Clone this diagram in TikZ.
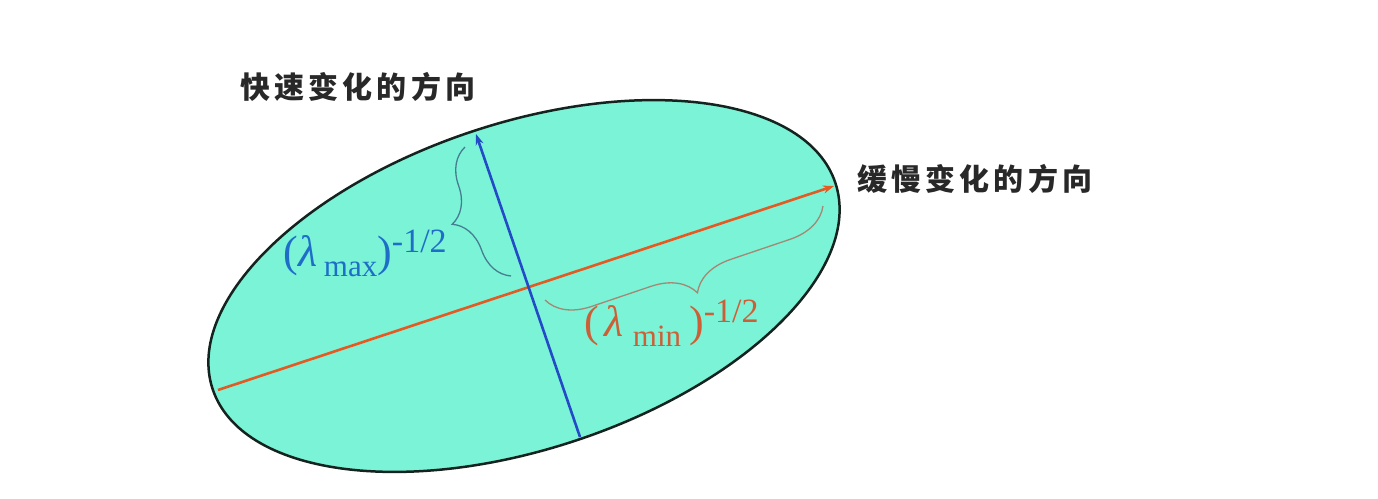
\documentclass[tikz,border=0pt]{standalone}
\usepackage{fontspec}
\setmainfont{Liberation Serif}
\newfontfamily\cjk[LetterSpace=14]{Noto Sans CJK SC}
\usetikzlibrary{shapes.geometric,arrows.meta,decorations.pathreplacing}
\definecolor{ellfill}{RGB}{122,243,214}
\definecolor{ellline}{RGB}{20,35,30}
\definecolor{axblue}{RGB}{35,75,200}
\definecolor{axred}{RGB}{228,90,35}
\definecolor{lbblue}{RGB}{30,110,200}
\definecolor{lbred}{RGB}{205,95,55}
\definecolor{brblue}{RGB}{70,125,145}
\definecolor{brred}{RGB}{165,135,115}
\definecolor{txt}{RGB}{40,40,40}
\tikzset{
  cjklabel/.style={anchor=west, inner sep=0pt, text=txt, font=\cjk\bfseries\fontsize{30}{30}\selectfont},
  axisline/.style={line width=2.6pt, -{Stealth[length=11pt,width=8pt]}},
  bracestyle/.style={decorate, line width=1.3pt},
  mathlabel/.style={anchor=base west, inner sep=0pt, font=\fontsize{44}{44}\selectfont},
}
\newcommand{\lsub}[1]{\raisebox{-10pt}{\fontsize{31}{31}\selectfont #1}}
\newcommand{\lsup}[1]{\raisebox{14pt}{\fontsize{34}{34}\selectfont #1}}
\begin{document}
\begin{tikzpicture}[x=1pt,y=-1pt]
\useasboundingbox (0,0) rectangle (1378,498);
% ellipse
\node[ellipse, draw=ellline, line width=2.5pt, fill=ellfill, minimum width=656pt, minimum height=326pt, rotate=18.3, inner sep=0pt] (ell) at (524,286) {};
% axis end points
\coordinate (L) at (218,390);
\coordinate (R) at (834,186);
\coordinate (B) at (580,437);
\coordinate (T) at (476,134);
\draw[axisline, draw=axred, fill=axred] (L) -- (R);
\draw[axisline, draw=axblue, fill=axblue] (B) -- (T);
% braces
\coordinate (mb1) at (511,276);
\coordinate (mb2) at (465,147);
\coordinate (nb1) at (545,300);
\coordinate (nb2) at (823,206);
\draw[bracestyle, draw=brblue, decoration={brace, amplitude=38pt}] (mb1) -- (mb2);
\draw[bracestyle, draw=brred, decoration={brace, mirror, amplitude=42pt}] (nb1) -- (nb2);
% labels
\node[mathlabel, text=lbblue] (lmax) at (283,266) {(\hspace{1pt}\textit{λ}\hspace{6pt}\lsub{max})\lsup{-1/2}};
\node[mathlabel, text=lbred] (lmin) at (584,336) {(\hspace{6pt}\textit{λ}\hspace{9pt}\lsub{min}\hspace{8pt})\lsup{-1/2}};
\node[cjklabel] (fast) at (240,87) {快速变化的方向};
\node[cjklabel] (slow) at (857,179) {缓慢变化的方向};
\end{tikzpicture}
\end{document}
